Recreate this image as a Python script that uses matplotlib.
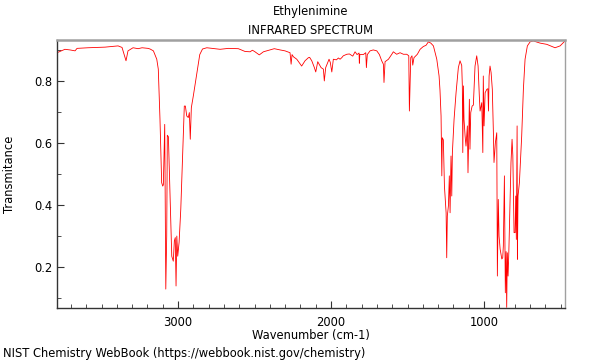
import matplotlib
matplotlib.use("Agg")
import matplotlib.pyplot as plt
from matplotlib.ticker import MultipleLocator

title = "Ethylenimine"
subtitle = "INFRARED SPECTRUM"
xlabel = "Wavenumber (cm-1)"
ylabel = "Transmitance"
footer = "NIST Chemistry WebBook (https://webbook.nist.gov/chemistry)"

wavenumber = [
    3791, 3739, 3706, 3673, 3660, 3627, 3588, 3477, 3392, 3366, 3340, 3327,
    3294, 3261, 3235, 3196, 3183, 3161, 3139, 3129, 3118, 3107, 3100, 3096,
    3087, 3080, 3074, 3070, 3063, 3059, 3048, 3041, 3031, 3024, 3018, 3013,
    3008, 3002, 2993, 2982, 2969, 2959, 2952, 2943, 2933, 2926, 2920, 2913,
    2900, 2885, 2871, 2858, 2840, 2812, 2725, 2671, 2606, 2562, 2529, 2514,
    2500, 2469, 2442, 2420, 2371, 2333, 2301, 2268, 2261, 2255, 2246, 2224,
    2192, 2170, 2148, 2140, 2126, 2109, 2100, 2087, 2065, 2050, 2044, 2035,
    2013, 2005, 1995, 1985, 1965, 1952, 1941, 1930, 1920, 1897, 1880, 1858,
    1843, 1830, 1817, 1815, 1812, 1789, 1773, 1769, 1763, 1745, 1724, 1701,
    1684, 1669, 1658, 1654, 1647, 1625, 1603, 1593, 1571, 1549, 1527, 1505,
    1492, 1488, 1479, 1471, 1466, 1458, 1436, 1418, 1397, 1379, 1364, 1348,
    1331, 1309, 1294, 1288, 1281, 1276, 1273, 1266, 1259, 1248, 1244, 1240,
    1233, 1227, 1222, 1216, 1211, 1207, 1196, 1183, 1168, 1157, 1146, 1142,
    1139, 1135, 1131, 1124, 1118, 1109, 1105, 1100, 1096, 1092, 1087, 1078,
    1070, 1059, 1048, 1039, 1031, 1026, 1015, 1008, 1005, 1000, 993, 982,
    975, 971, 967, 961, 954, 946, 939, 935, 926, 917, 913, 907, 902, 895,
    884, 878, 874, 867, 863, 861, 856, 852, 848, 843, 838, 830, 824, 817,
    812, 804, 797, 793, 789, 784, 782, 778, 769, 754, 743, 732, 717, 699,
    678, 634, 590, 536, 503, 471,
]
transmittance = [
    0.891, 0.902, 0.900, 0.897, 0.905, 0.906, 0.907, 0.909, 0.913, 0.908, 0.865, 0.897,
    0.907, 0.904, 0.907, 0.905, 0.903, 0.897, 0.870, 0.838, 0.677, 0.472, 0.461, 0.465,
    0.660, 0.129, 0.300, 0.625, 0.620, 0.548, 0.355, 0.235, 0.219, 0.284, 0.295, 0.139,
    0.300, 0.235, 0.280, 0.387, 0.569, 0.719, 0.719, 0.687, 0.682, 0.698, 0.612, 0.714,
    0.752, 0.800, 0.845, 0.885, 0.903, 0.907, 0.902, 0.905, 0.904, 0.895, 0.894, 0.899,
    0.895, 0.884, 0.894, 0.897, 0.904, 0.900, 0.897, 0.891, 0.854, 0.885, 0.878, 0.870,
    0.848, 0.865, 0.875, 0.876, 0.865, 0.843, 0.829, 0.862, 0.843, 0.838, 0.800, 0.843,
    0.870, 0.860, 0.829, 0.870, 0.868, 0.874, 0.870, 0.875, 0.881, 0.886, 0.887, 0.880,
    0.894, 0.885, 0.890, 0.857, 0.885, 0.885, 0.891, 0.843, 0.885, 0.897, 0.900, 0.897,
    0.885, 0.865, 0.854, 0.795, 0.862, 0.870, 0.886, 0.894, 0.886, 0.891, 0.886, 0.886,
    0.881, 0.703, 0.875, 0.881, 0.851, 0.875, 0.886, 0.902, 0.911, 0.915, 0.926, 0.922,
    0.913, 0.870, 0.816, 0.770, 0.687, 0.494, 0.617, 0.610, 0.461, 0.375, 0.230, 0.365,
    0.397, 0.494, 0.375, 0.558, 0.429, 0.569, 0.676, 0.762, 0.843, 0.865, 0.850, 0.784,
    0.569, 0.784, 0.676, 0.623, 0.590, 0.655, 0.504, 0.620, 0.741, 0.580, 0.698, 0.719,
    0.722, 0.848, 0.881, 0.848, 0.752, 0.703, 0.730, 0.569, 0.816, 0.655, 0.762, 0.773,
    0.775, 0.703, 0.816, 0.848, 0.827, 0.773, 0.633, 0.537, 0.601, 0.633, 0.171, 0.418,
    0.300, 0.258, 0.226, 0.230, 0.268, 0.494, 0.250, 0.117, 0.250, 0.070, 0.246, 0.171,
    0.250, 0.407, 0.537, 0.612, 0.560, 0.311, 0.311, 0.429, 0.289, 0.655, 0.225, 0.429,
    0.472, 0.623, 0.773, 0.870, 0.913, 0.926, 0.929, 0.922, 0.918, 0.907, 0.913, 0.929,
]

fs = 8.3
fig = plt.figure(figsize=(6, 3.6), dpi=100)
ax = fig.add_axes([57/600, 1-308/360, (565-57)/600, (308-40)/360])
ax.plot(wavenumber, transmittance, color="#ff0000", lw=0.6)
ax.set_xlim(3791, 471)
ax.set_ylim(0.068, 0.932)

ax.xaxis.set_major_locator(MultipleLocator(1000))
ax.xaxis.set_minor_locator(MultipleLocator(100))
ax.yaxis.set_major_locator(MultipleLocator(0.2))
ax.yaxis.set_minor_locator(MultipleLocator(0.1))
ax.tick_params(which="both", direction="in", labelsize=fs, color="#333333")
ax.tick_params(which="major", length=5)
ax.tick_params(which="minor", length=3)
ax.tick_params(axis="x", pad=6)

for s in ("left", "bottom"):
    ax.spines[s].set_color("#333333")
    ax.spines[s].set_linewidth(1.0)
ax.spines["top"].set_color("#a0a0a0")
ax.spines["top"].set_linewidth(1.8)
ax.spines["right"].set_color("#a0a0a0")
ax.spines["right"].set_linewidth(1.0)

ax.set_xlabel(xlabel, fontsize=fs, labelpad=0)
ax.set_ylabel(ylabel, fontsize=fs)
ax.yaxis.set_label_coords(-(57-16)/508, 0.5)

fig.text(311/600, 1-12/360, title, ha="center", va="center", fontsize=fs)
fig.text(311/600, 1-30/360, subtitle, ha="center", va="center", fontsize=fs)
fig.text(3/600, 1-353/360, footer, ha="left", va="center", fontsize=fs)

fig.savefig("out.png", dpi=100)
